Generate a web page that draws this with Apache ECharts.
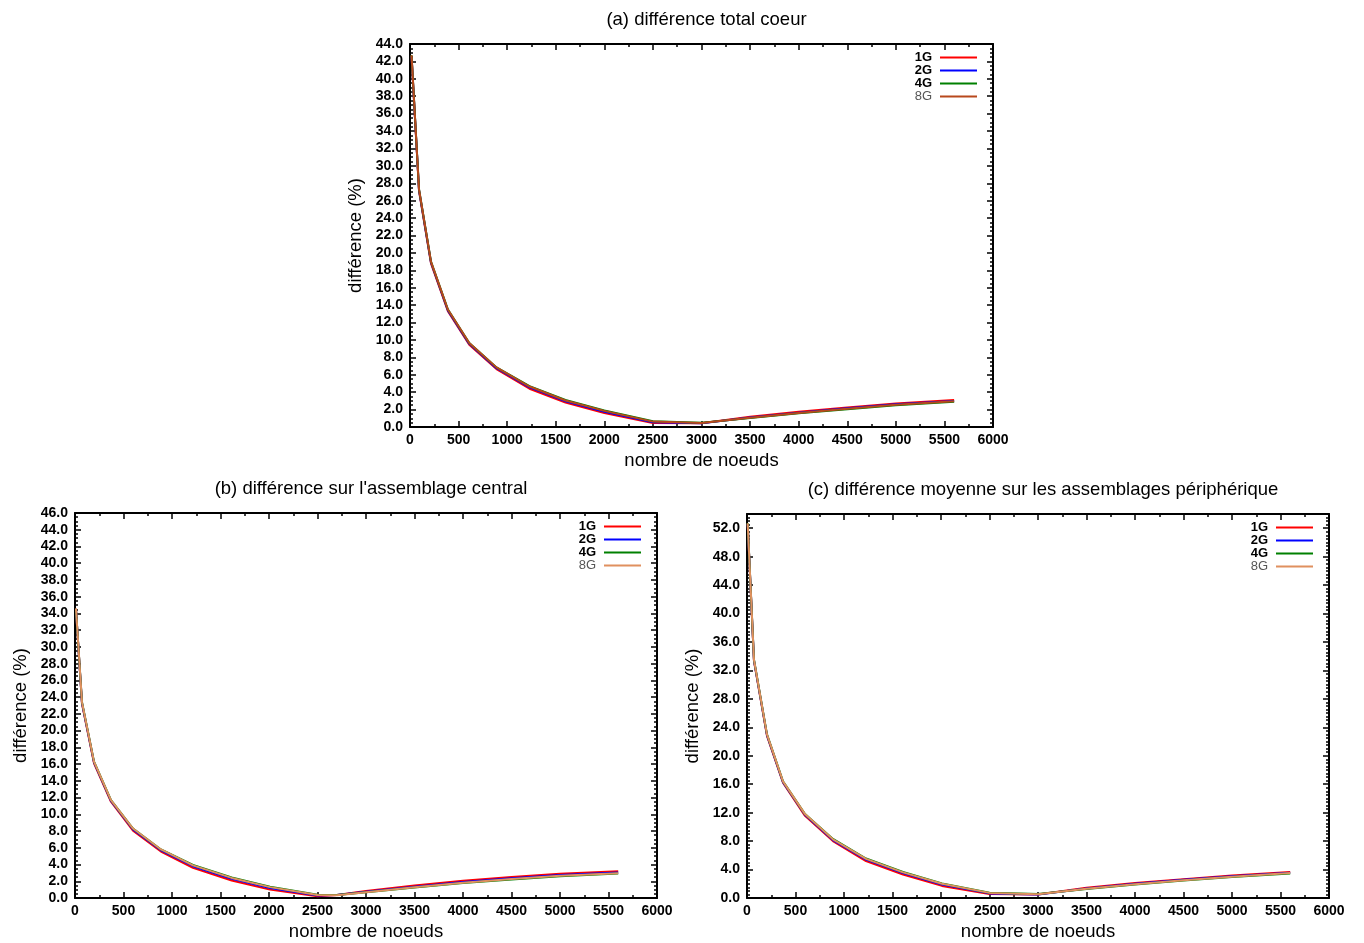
<!DOCTYPE html>
<html>
<head>
<meta charset="utf-8">
<script src="https://cdn.jsdelivr.net/npm/echarts@6/dist/echarts.min.js"></script>
<style>
html,body{margin:0;padding:0;background:#fff;}
#main{width:1364px;height:943px;}
</style>
</head>
<body>
<div id="main"></div>
<script>
// ---- data ----
const seriesNames = ['1G', '2G', '4G', '8G'];
const xTicks = [0, 500, 1000, 1500, 2000, 2500, 3000, 3500, 4000, 4500, 5000, 5500, 6000];

// (a) différence total coeur
const aNodes = [16, 93, 216, 390, 610, 890, 1230, 1600, 2000, 2500, 3000, 3500, 4000, 4500, 5000, 5600];
const a1G = [42.6, 27.1, 18.8, 13.3, 9.45, 6.65, 4.4, 2.8, 1.6, 0.45, 0.42, 1.18, 1.75, 2.25, 2.7, 3.1];
const a2G = [42.6, 27.2, 18.9, 13.4, 9.55, 6.75, 4.55, 2.95, 1.75, 0.55, 0.42, 1.1, 1.65, 2.15, 2.6, 3.0];
const a4G = [42.7, 27.3, 19.0, 13.5, 9.65, 6.85, 4.7, 3.1, 1.9, 0.65, 0.48, 1.02, 1.57, 2.05, 2.5, 2.9];
const a8G = [42.7, 27.3, 19.0, 13.5, 9.65, 6.85, 4.65, 3.05, 1.85, 0.62, 0.46, 1.06, 1.6, 2.1, 2.55, 2.95];

// (b) différence sur l'assemblage central
const bNodes = [10, 72, 196, 371, 598, 886, 1216, 1615, 2010, 2500, 2700, 3000, 3500, 4000, 4500, 5000, 5600];
const b1G = [34.5, 23.2, 16.1, 11.5, 8.05, 5.55, 3.6, 2.1, 1.0, 0.2, 0.35, 0.85, 1.5, 2.05, 2.5, 2.9, 3.2];
const b2G = [34.5, 23.3, 16.2, 11.6, 8.2, 5.7, 3.8, 2.3, 1.2, 0.3, 0.35, 0.75, 1.35, 1.9, 2.35, 2.75, 3.05];
const b4G = [34.5, 23.4, 16.3, 11.7, 8.3, 5.8, 3.95, 2.45, 1.35, 0.4, 0.35, 0.7, 1.25, 1.78, 2.22, 2.6, 2.92];
const b8G = [34.6, 23.4, 16.3, 11.7, 8.3, 5.8, 3.9, 2.4, 1.3, 0.37, 0.33, 0.7, 1.28, 1.82, 2.26, 2.65, 2.97];

// (c) différence moyenne sur les assemblages périphérique
const cNodes = [7, 72, 206, 371, 598, 886, 1227, 1608, 2010, 2500, 3000, 3500, 4000, 4500, 5000, 5600];
const c1G = [52.6, 33.3, 22.8, 16.2, 11.55, 8.0, 5.2, 3.3, 1.7, 0.55, 0.5, 1.45, 2.1, 2.65, 3.15, 3.65];
const c2G = [52.6, 33.4, 22.9, 16.3, 11.7, 8.15, 5.4, 3.5, 1.9, 0.65, 0.5, 1.35, 2.0, 2.55, 3.05, 3.55];
const c4G = [52.7, 33.5, 23.0, 16.4, 11.8, 8.3, 5.55, 3.65, 2.05, 0.75, 0.55, 1.25, 1.9, 2.45, 2.95, 3.45];
const c8G = [52.7, 33.5, 23.0, 16.4, 11.8, 8.25, 5.5, 3.6, 2.0, 0.72, 0.52, 1.3, 1.95, 2.5, 3.0, 3.5];

// ---- chart setup ----
const FONT = 'Liberation Sans';
const charts = [
  {title: '(a) différence total coeur', x: aNodes, ys: [a1G, a2G, a4G, a8G], yMax: 44, yInt: 2, yMinor: 4,
   grid: {left: 410, top: 44, width: 583, height: 383}, colors: ['#ff0000', '#0000ff', '#008000', '#b8481c']},
  {title: "(b) différence sur l'assemblage central", x: bNodes, ys: [b1G, b2G, b4G, b8G], yMax: 46, yInt: 2, yMinor: 4,
   grid: {left: 75, top: 513, width: 582, height: 385}, colors: ['#ff0000', '#0000ff', '#008000', '#e0905f']},
  {title: '(c) différence moyenne sur les assemblages périphérique', x: cNodes, ys: [c1G, c2G, c4G, c8G], yMax: 54, yInt: 4, yMinor: 8,
   grid: {left: 747, top: 514, width: 582, height: 384}, colors: ['#ff0000', '#0000ff', '#008000', '#e0905f']}
];

const grids = [], xAxes = [], yAxes = [], series = [], titles = [], legends = [];
const lineStyle = {color: '#000', width: 2};
const tickStyle = {color: '#000', width: 1.5};

charts.forEach((c, i) => {
  grids.push(Object.assign({containLabel: false}, c.grid));
  const cx = c.grid.left + c.grid.width / 2;
  titles.push({text: c.title, left: cx, top: c.grid.top - 39, textAlign: 'center',
    textStyle: {fontFamily: FONT, fontSize: 18.5, fontWeight: 'normal', color: '#000'}});
  const xBase = {type: 'value', gridIndex: i, min: 0, max: 6000, interval: 500,
    axisLine: {show: true, onZero: false, lineStyle: lineStyle},
    axisTick: {show: true, inside: true, length: 6, lineStyle: tickStyle},
    minorTick: {show: true, splitNumber: 2, length: 3, lineStyle: tickStyle},
    splitLine: {show: false}};
  xAxes.push(Object.assign({}, xBase, {position: 'bottom',
    name: 'nombre de noeuds', nameLocation: 'middle', nameGap: 24,
    nameTextStyle: {fontFamily: FONT, fontSize: 18.5, color: '#000'},
    axisLabel: {show: true, fontFamily: FONT, fontSize: 14, fontWeight: 'bold', color: '#000', margin: 6,
      formatter: v => xTicks.indexOf(v) >= 0 ? String(v) : ''}}));
  xAxes.push(Object.assign({}, xBase, {position: 'top', axisLabel: {show: false}}));
  const yBase = {type: 'value', gridIndex: i, min: 0, max: c.yMax, interval: c.yInt,
    axisLine: {show: true, onZero: false, lineStyle: lineStyle},
    axisTick: {show: true, inside: true, length: 6, lineStyle: tickStyle},
    minorTick: {show: true, splitNumber: c.yMinor, length: 3, lineStyle: tickStyle},
    splitLine: {show: false}};
  yAxes.push(Object.assign({}, yBase, {position: 'left',
    name: 'différence (%)', nameLocation: 'middle', nameGap: 45, nameRotate: 90,
    nameTextStyle: {fontFamily: FONT, fontSize: 18.5, color: '#000'},
    axisLabel: {show: true, fontFamily: FONT, fontSize: 14, fontWeight: 'bold', color: '#000', margin: 7,
      formatter: v => (v % c.yInt === 0 && v < c.yMax || (v === c.yMax && c.yMax % c.yInt === 0)) ? v.toFixed(1) : ''}}));
  yAxes.push(Object.assign({}, yBase, {position: 'right', axisLabel: {show: false}}));

  c.ys.forEach((ys, k) => {
    series.push({type: 'line', name: seriesNames[k], xAxisIndex: 2 * i, yAxisIndex: 2 * i,
      data: c.x.map((xv, j) => [xv, ys[j]]), showSymbol: false, symbol: 'none',
      lineStyle: {color: c.colors[k], width: 2}, itemStyle: {color: c.colors[k]}, z: 2 + k});
  });

  legends.push({orient: 'vertical', align: 'right', icon: 'rect',
    right: 1364 - (c.grid.left + c.grid.width) + 16, top: c.grid.top + 7,
    itemWidth: 37, itemHeight: 2, itemGap: 0, selectedMode: false, padding: [0, 0, 0, 0],
    textStyle: {fontFamily: FONT, fontSize: 13, fontWeight: 'bold', color: '#000', lineHeight: 13, padding: [0, 3, 0, 0]},
    data: seriesNames.map((n, k) => ({name: n, itemStyle: {color: c.colors[k]},
      textStyle: k === 3 ? {color: '#555', fontWeight: 'normal'} : {}}))});
});

const chart = echarts.init(document.getElementById('main'), null, {renderer: 'canvas'});
chart.setOption({
  animation: false,
  backgroundColor: '#fff',
  title: titles,
  legend: legends,
  grid: grids,
  xAxis: xAxes,
  yAxis: yAxes,
  series: series
});
</script>
</body>
</html>
